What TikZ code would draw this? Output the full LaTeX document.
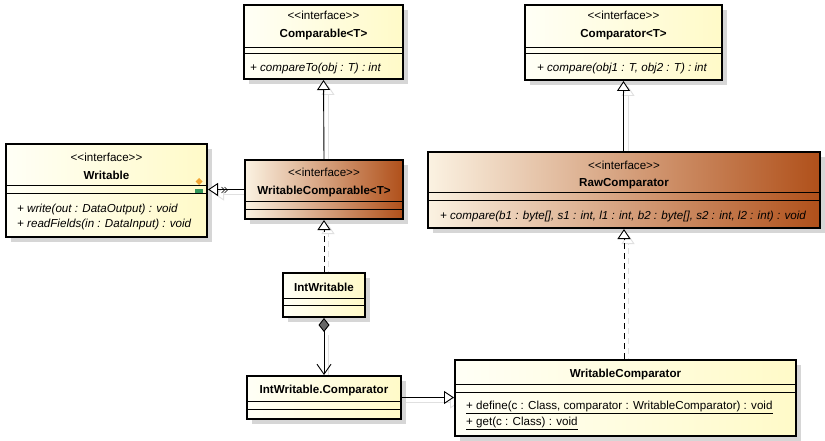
\documentclass[tikz,border=0pt]{standalone}
\usepackage{fontspec}
\setmainfont{Liberation Sans}
\usetikzlibrary{arrows.meta,fit,shadows}
\definecolor{ylL}{RGB}{255,255,246}
\definecolor{ylR}{RGB}{255,250,200}
\definecolor{brL}{RGB}{251,242,226}
\definecolor{brR}{RGB}{176,80,26}
\definecolor{shd}{RGB}{214,214,214}
\definecolor{lshd}{RGB}{224,224,224}
\definecolor{dorange}{RGB}{242,165,50}
\definecolor{dgreen}{RGB}{50,150,90}
\newcommand\stereotext{<\kern0pt<interface>\kern0pt>}
\begin{document}
\begin{tikzpicture}[x=1pt,y=-1pt,
  font=\fontsize{11.6}{14}\selectfont,
  cls/.style={draw=black, line width=2pt, inner sep=0pt,
    drop shadow={shadow xshift=5pt, shadow yshift=-5pt, fill=shd, opacity=1}},
  ylw/.style={cls, left color=ylL, right color=ylR},
  brn/.style={cls, left color=brL, right color=brR},
  sepline/.style={line width=0.9pt},
  stereo/.style={inner sep=0pt, anchor=base},
  cname/.style={inner sep=0pt, anchor=base, font=\fontsize{11.6}{14}\selectfont\bfseries},
  meth/.style={inner sep=0pt, anchor=base west, font=\fontsize{11.6}{14}\selectfont\itshape},
  smeth/.style={inner sep=0pt, anchor=base west},
  conn/.style={line width=0.9pt, draw=black},
  cshadow/.style={line width=0.9pt, draw=lshd, transform canvas={shift={(4pt,-4pt)}}},
  realize/.style={-{Triangle[open, length=10pt, width=13pt, fill=white]}},
  dsh/.style={dash pattern=on 6pt off 4pt},
]
\useasboundingbox (0,0) rectangle (825,441);

% ---------- connector shadows ----------
\draw[cshadow, realize] (324,159) -- (324,81);
\draw[cshadow, realize] (624,151) -- (624,82);
\draw[cshadow, realize] (245,190) -- (210,190);
\draw[cshadow, realize, dsh] (324,273) -- (324,220);
\draw[cshadow] (324,331) -- (324,376);
\draw[cshadow, realize] (401,398) -- (456,398);
\draw[cshadow, realize, dsh] (624,360) -- (624,230);

% ---------- Comparable<T> ----------
\node[ylw, fit={(244,5) (403,79)}] (cmp) {};
\draw[sepline] (cmp.west |- 0,47) -- (cmp.east |- 0,47);
\draw[sepline] (cmp.west |- 0,53) -- (cmp.east |- 0,53);
\node[stereo] (cmpS) at (323.5,20) {\stereotext};
\node[cname] (cmpN) at (323.5,38) {Comparable<T>};
\node[meth] (cmpM) at (250,72) {+ compareTo(obj : T) : int};

% ---------- Comparator<T> ----------
\node[ylw, fit={(525,5) (722,80)}] (cmpr) {};
\draw[sepline] (cmpr.west |- 0,47) -- (cmpr.east |- 0,47);
\draw[sepline] (cmpr.west |- 0,53) -- (cmpr.east |- 0,53);
\node[stereo] (cmprS) at (623.5,20) {\stereotext};
\node[cname] (cmprN) at (623.5,38) {Comparator<T>};
\node[meth] (cmprM) at (537,72) {+ compare(obj1 : T, obj2 : T) : int};

% ---------- Writable ----------
\node[ylw, fit={(6,144) (207,237)}] (wr) {};
\draw[sepline] (wr.west |- 0,185) -- (wr.east |- 0,185);
\draw[sepline] (wr.west |- 0,193) -- (wr.east |- 0,193);
\node[stereo] (wrS) at (106.5,161) {\stereotext};
\node[cname] (wrN) at (106.5,179) {Writable};
\node[meth] (wrM1) at (17,212) {+ write(out : DataOutput) : void};
\node[meth] (wrM2) at (17,227) {+ readFields(in : DataInput) : void};
\fill[dorange] (199,178) -- (202.5,181.5) -- (199,185) -- (195.5,181.5) -- cycle;
\fill[dgreen] (195,189.5) rectangle (203,193.5);

% ---------- WritableComparable<T> ----------
\node[brn, fit={(245,160) (403,219)}] (wcp) {};
\draw[sepline] (wcp.west |- 0,201) -- (wcp.east |- 0,201);
\draw[sepline] (wcp.west |- 0,209) -- (wcp.east |- 0,209);
\node[stereo] (wcpS) at (324,177) {\stereotext};
\node[cname] (wcpN) at (324,194) {WritableComparable<T>};

% ---------- RawComparator ----------
\node[brn, fit={(428,152) (820,228)}] (raw) {};
\draw[sepline] (raw.west |- 0,192) -- (raw.east |- 0,192);
\draw[sepline] (raw.west |- 0,200) -- (raw.east |- 0,200);
\node[stereo] (rawS) at (624,170) {\stereotext};
\node[cname] (rawN) at (624,186) {RawComparator};
\node[meth] (rawM) at (440,219) {+ compare(b1 : byte[], s1 : int, l1 : int, b2 : byte[], s2 : int, l2 : int) : void};

% ---------- IntWritable ----------
\node[ylw, fit={(283,273) (365,317)}] (iw) {};
\draw[sepline] (iw.west |- 0,298) -- (iw.east |- 0,298);
\draw[sepline] (iw.west |- 0,305) -- (iw.east |- 0,305);
\node[cname] (iwN) at (324,291) {IntWritable};

% ---------- IntWritable.Comparator ----------
\node[ylw, fit={(247,376) (401,419)}] (iwc) {};
\draw[sepline] (iwc.west |- 0,401) -- (iwc.east |- 0,401);
\draw[sepline] (iwc.west |- 0,409) -- (iwc.east |- 0,409);
\node[cname] (iwcN) at (324,393) {IntWritable.Comparator};

% ---------- WritableComparator ----------
\node[ylw, fit={(455,360) (796,436)}] (wcr) {};
\draw[sepline] (wcr.west |- 0,384) -- (wcr.east |- 0,384);
\draw[sepline] (wcr.west |- 0,392) -- (wcr.east |- 0,392);
\node[cname] (wcrN) at (625.5,377) {WritableComparator};
\node[smeth] (wcrM1) at (466,409) {\underline{+ define(c : Class, comparator : WritableComparator) : void}};
\node[smeth] (wcrM2) at (466,425) {\underline{+ get(c : Class) : void}};

% ---------- connectors ----------
\draw[conn, realize] (wcp.north) -- (cmp.south);
\draw[conn, realize] (raw.north -| cmpr.south) -- (cmpr.south);
\draw[conn, realize] (wcp.west) -- (wr.east |- wcp.west);
\draw[conn, realize, dsh] (iw.north) -- (wcp.south);
\draw[conn, {Diamond[length=14pt, width=11pt, fill=black!60]}-{Straight Barb[length=10pt, width=14pt]}] (iw.south) -- (iwc.north);
\draw[conn, realize] (iwc.east) -- (wcr.west |- iwc.east);
\draw[conn, realize, dsh] (wcr.north -| raw.south) -- (raw.south);
% small double chevron on the Writable link
\draw[line width=0.7pt] (221.5,187) -- (224.5,190) -- (221.5,193);
\draw[line width=0.7pt] (224.5,187) -- (227.5,190) -- (224.5,193);
\end{tikzpicture}
\end{document}
